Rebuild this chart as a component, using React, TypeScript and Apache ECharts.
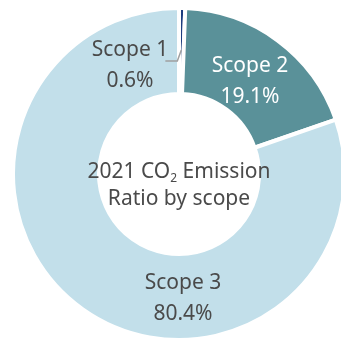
import React, { useEffect, useRef } from "react";
import * as echarts from "echarts";

const categories = ["Scope 1", "Scope 2", "Scope 3"];
const values = [0.6, 19.1, 80.4];
const colors = ["#1d3c7e", "#5a9199", "#c2dfea"];
const centerLines = ["2021 CO{sub|2} Emission", "Ratio by scope"];

const FONT = "'Noto Sans', sans-serif";
const TEXT_COLOR = "#4a4a4a";
const CX = 179;
const CY = 174;

export default function App() {
  const ref = useRef<HTMLDivElement>(null);
  useEffect(() => {
    if (!ref.current) return;
    const chart = echarts.init(ref.current, undefined, { renderer: "svg" });
    const labelBase = {
      fontFamily: FONT,
      fontSize: 21,
      lineHeight: 31,
      color: TEXT_COLOR,
      formatter: "{b}\n{c}%",
      position: "inside",
    };
    const data = categories.map((name, i) => ({
      name,
      value: values[i],
      itemStyle: { color: colors[i] },
      label: i === 1 ? { ...labelBase, color: "#ffffff" } : { ...labelBase },
      labelLine: { show: false },
    }));
    // leader line for Scope 1, anchored at the middle of its slice
    const total = values.reduce((a, b) => a + b, 0);
    const midDeg = 90 - (values[0] / total) * 360 / 2;
    const rad = (midDeg * Math.PI) / 180;
    const ax = CX + 124 * Math.cos(rad);
    const ay = CY - 124 * Math.sin(rad);
    chart.setOption({
      animation: false,
      series: [
        {
          type: "pie",
          center: [CX, CY],
          radius: [80, 166],
          startAngle: 90,
          clockwise: true,
          avoidLabelOverlap: false,
          itemStyle: { borderColor: "#ffffff", borderWidth: 4 },
          emphasis: { disabled: true },
          data,
          labelLayout: (params: any) => {
            if (params.dataIndex === 0) return { x: 130, y: 63, align: "center", verticalAlign: "middle" };
            if (params.dataIndex === 1) return { x: 250, y: 79, align: "center", verticalAlign: "middle" };
            if (params.dataIndex === 2) return { x: 183, y: 296, align: "center", verticalAlign: "middle" };
            return {};
          },
        },
      ],
      graphic: [
        {
          type: "polyline",
          z: 100,
          shape: { points: [[ax, ay], [ax - 4, ay + 11], [ax - 16, ay + 11]] },
          style: { stroke: "#a0a0a0", lineWidth: 1.5, fill: "none" },
        },
        {
          type: "text",
          z: 100,
          x: CX,
          y: 183,
          style: {
            text: centerLines.join("\n"),
            align: "center",
            verticalAlign: "middle",
            fontFamily: FONT,
            fontSize: 21,
            lineHeight: 27,
            fill: TEXT_COLOR,
            rich: {
              sub: { fontSize: 12, fontFamily: FONT, fill: TEXT_COLOR, verticalAlign: "bottom", lineHeight: 27 },
            },
          },
        },
      ],
    });
    return () => chart.dispose();
  }, []);
  return <div ref={ref} style={{ position: "fixed", left: 0, top: 0, width: 341, height: 342 }} />;
}
